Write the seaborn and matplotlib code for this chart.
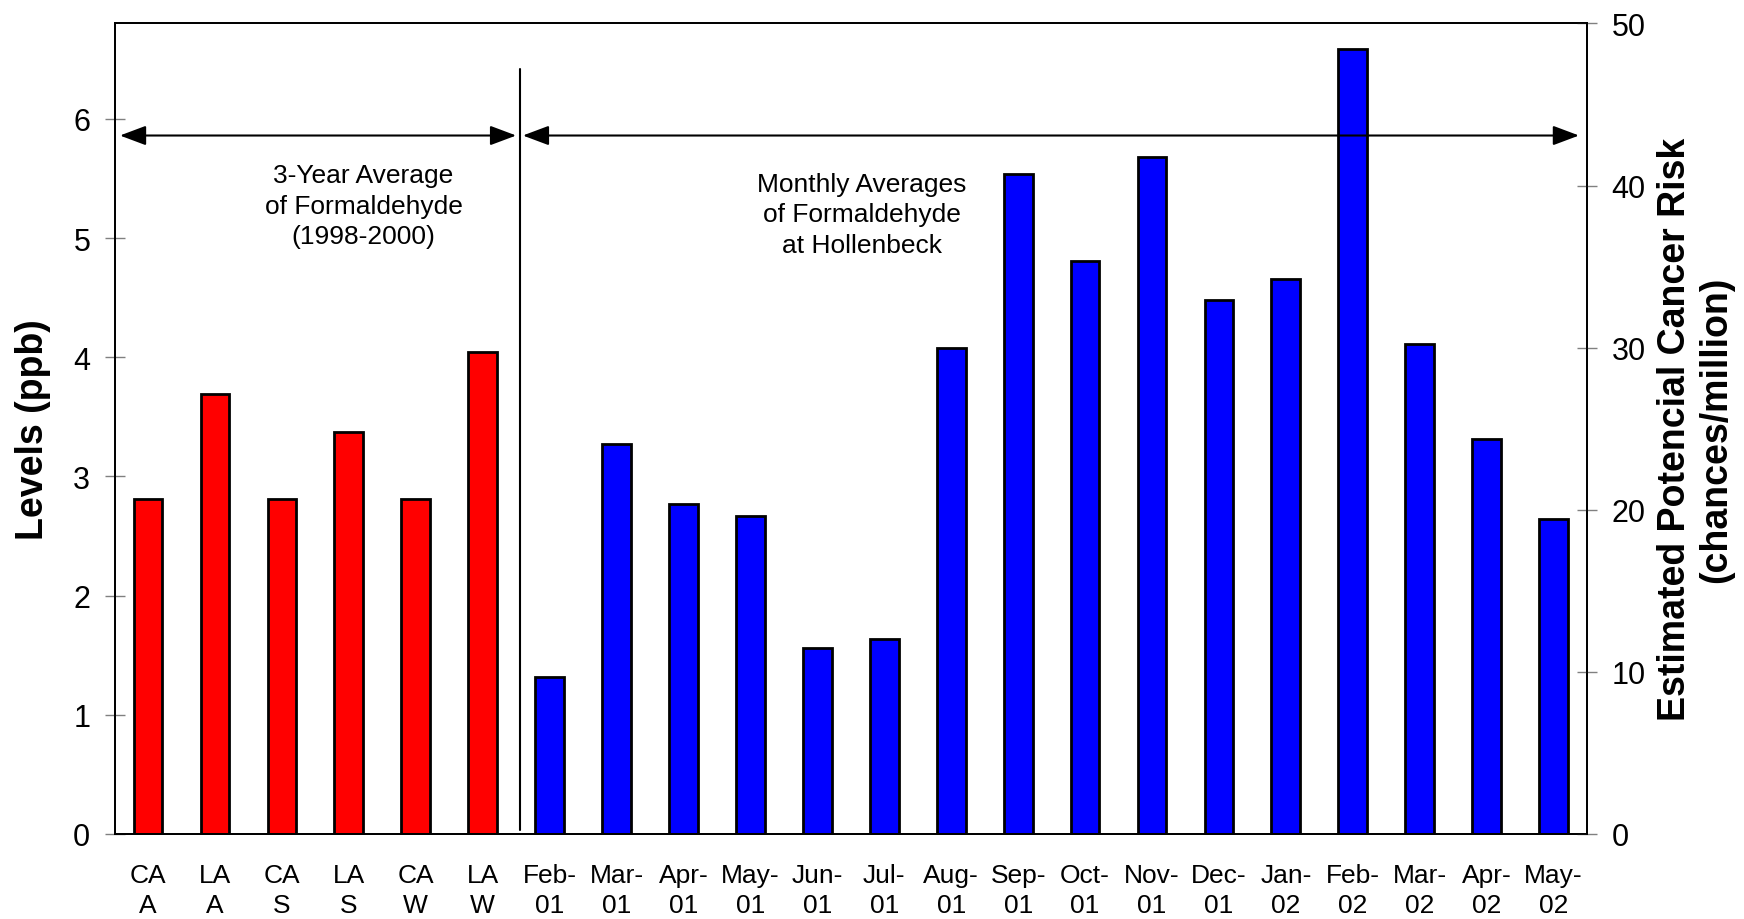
import matplotlib
matplotlib.use("Agg")
import matplotlib.pyplot as plt
import seaborn as sns
import pandas as pd

# categories and values (ppb)
labels = ["CA\nA", "LA\nA", "CA\nS", "LA\nS", "CA\nW", "LA\nW",
          "Feb-\n01", "Mar-\n01", "Apr-\n01", "May-\n01", "Jun-\n01", "Jul-\n01",
          "Aug-\n01", "Sep-\n01", "Oct-\n01", "Nov-\n01", "Dec-\n01", "Jan-\n02",
          "Feb-\n02", "Mar-\n02", "Apr-\n02", "May-\n02"]
levels = [2.81, 3.69, 2.81, 3.37, 2.81, 4.04,
          1.32, 3.27, 2.77, 2.67, 1.56, 1.64,
          4.08, 5.54, 4.81, 5.68, 4.48, 4.66,
          6.59, 4.11, 3.31, 2.64]
groups = ["avg"] * 6 + ["monthly"] * 16

df = pd.DataFrame({"label": labels, "ppb": levels, "group": groups})

sns.set_style("white")
plt.rcParams["font.family"] = ["Liberation Sans", "DejaVu Sans"]
plt.rcParams["text.color"] = "black"
plt.rcParams["axes.labelcolor"] = "black"

fig = plt.figure(figsize=(17.44, 9.2), dpi=100)
ax = fig.add_axes([0.0657, 0.0924, 0.8443, 0.881])

sns.barplot(data=df, x="label", y="ppb", hue="group",
            palette={"avg": "#FF0000", "monthly": "#0000FF"},
            saturation=1, dodge=False, width=0.43, edgecolor="black",
            linewidth=2, legend=False, ax=ax)

ax.set_xlim(-0.5, 21.5)
ax.set_ylim(0, 6.8)
ax.set_yticks(range(0, 7))
ax.set_xlabel("")
ax.set_ylabel("Levels (ppb)", fontsize=27, fontweight="bold", labelpad=16)
ax.tick_params(axis="y", direction="inout", length=15, width=1, color="gray",
               labelcolor="black", labelsize=22, pad=10)
ax.tick_params(axis="x", length=0, labelsize=19, labelcolor="black", pad=21)
for lbl in ax.get_xticklabels():
    lbl.set_linespacing(1.3)
for s in ax.spines.values():
    s.set_visible(True)
    s.set_color("black")
    s.set_linewidth(1.3)

ax2 = ax.twinx()
ax2.set_ylim(0, 50)
ax2.set_yticks(range(0, 51, 10))
ax2.tick_params(axis="y", direction="inout", length=15, width=1, color="gray",
                labelcolor="black", labelsize=22, pad=10)
ax2.set_ylabel("Estimated Potencial Cancer Risk\n(chances/million)",
               fontsize=27, fontweight="bold", labelpad=8, linespacing=1.2)
for s in ax2.spines.values():
    s.set_visible(True)
    s.set_color("black")
    s.set_linewidth(1.3)

# divider and span arrows
ax.plot([5.55, 5.55], [0.03, 6.42], color="black", lw=1.5)
style = "<|-|>,head_length=0.8,head_width=0.3"
ax.annotate("", xy=(5.5, 5.86), xytext=(-0.42, 5.86),
            arrowprops=dict(arrowstyle=style, color="black", lw=1.5,
                            mutation_scale=20, shrinkA=0, shrinkB=0))
ax.annotate("", xy=(21.38, 5.86), xytext=(5.6, 5.86),
            arrowprops=dict(arrowstyle=style, color="black", lw=1.5,
                            mutation_scale=20, shrinkA=0, shrinkB=0))

ax.text(3.22, 5.27, "3-Year Average\nof Formaldehyde\n(1998-2000)",
        ha="center", va="center", fontsize=19, linespacing=1.35)
ax.text(10.66, 5.2, "Monthly Averages\nof Formaldehyde\nat Hollenbeck",
        ha="center", va="center", fontsize=19, linespacing=1.35)

fig.savefig("out.png", dpi=100)
